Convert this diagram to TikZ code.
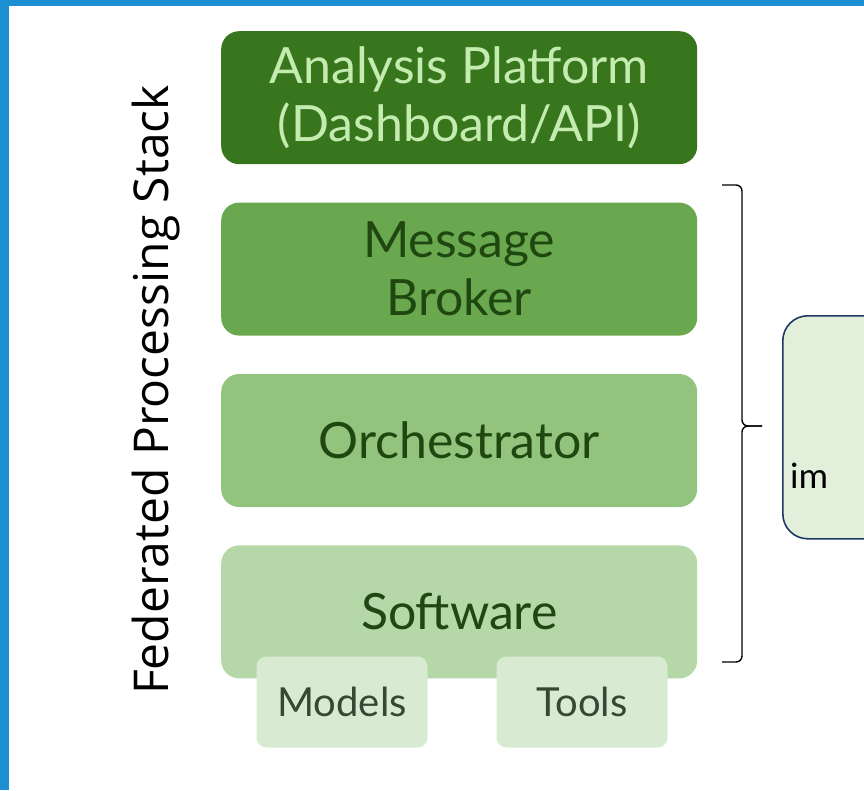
\documentclass[tikz,border=0pt]{standalone}
\usepackage{fontspec}
\setmainfont{Lato}
\newfontfamily\stackfont{Open Sans}
\newfontfamily\notefont{Carlito}
\usetikzlibrary{positioning}

\definecolor{frameblue}{RGB}{27,143,210}
\definecolor{platformgreen}{HTML}{38761D}
\definecolor{platformtext}{RGB}{196,236,176}
\definecolor{brokergreen}{HTML}{6AA84F}
\definecolor{orchgreen}{HTML}{93C47D}
\definecolor{softgreen}{HTML}{B6D7A8}
\definecolor{subgreen}{HTML}{D9EAD3}
\definecolor{layertext}{HTML}{1F4710}
\definecolor{subtext}{RGB}{56,70,52}
\definecolor{notefill}{HTML}{E2EFDA}
\definecolor{notedraw}{HTML}{1F3864}

\begin{document}
\begin{tikzpicture}[
            x = 1pt, y = -1pt, % one unit = one pixel, y down
            node distance = 38pt, % gap between layers
            inner sep = 0pt
        ]

        \tikzstyle{layer}=[
            rounded corners = 18pt,
            minimum width = 476pt,
            minimum height = 133pt,
            align = center,
            text = layertext,
            font = \fontsize{50}{58}\selectfont
        ]
        \tikzstyle{subbox}=[
            rounded corners = 10pt,
            fill = subgreen,
            minimum width = 171pt,
            minimum height = 91pt,
            text = subtext,
            font = \fontsize{40}{44}\selectfont
        ]

        \useasboundingbox (0,0) rectangle (864,790);
        \fill[frameblue] (0,0) rectangle (9,790);
        \fill[frameblue] (0,0) rectangle (864,6);

        \node[layer, fill = platformgreen, text = platformtext, anchor = north west] (platform) at (221,31) {Analysis Platform\\(Dashboard/API)};
        \node[layer, fill = brokergreen] (broker) [below=of platform] {Message\\Broker};
        \node[layer, fill = orchgreen] (orch) [below=of broker] {Orchestrator};
        \node[layer, fill = softgreen] (soft) [below=of orch] {Software};

        \node[subbox] (models) at (342,702) {Models};
        \node[subbox] (tools) at (582,702) {Tools};

        \node[rotate = 90, anchor = base, font = \stackfont\fontsize{48}{50}\selectfont] (stack) at (168,390) {Federated Processing Stack};

        % brace over the lower three layers
        \coordinate (bt) at (722,185);
        \coordinate (bb) at (722,662);
        \coordinate (tip) at (762,426);
        \draw[line width = 1.4pt, rounded corners = 6pt] (bt) -| (742,426) -- (tip);
        \draw[line width = 1.4pt, rounded corners = 6pt] (bb) -| (742,426) -- (tip);

        \node[draw = notedraw, line width = 1.6pt, fill = notefill, rounded corners = 25pt,
              minimum width = 200pt, minimum height = 223pt, anchor = north west] (note) at (782,315) {};
        \node[anchor = base west, font = \notefont\fontsize{37}{40}\selectfont] (im) at (790,488) {im};

\end{tikzpicture}
\end{document}
